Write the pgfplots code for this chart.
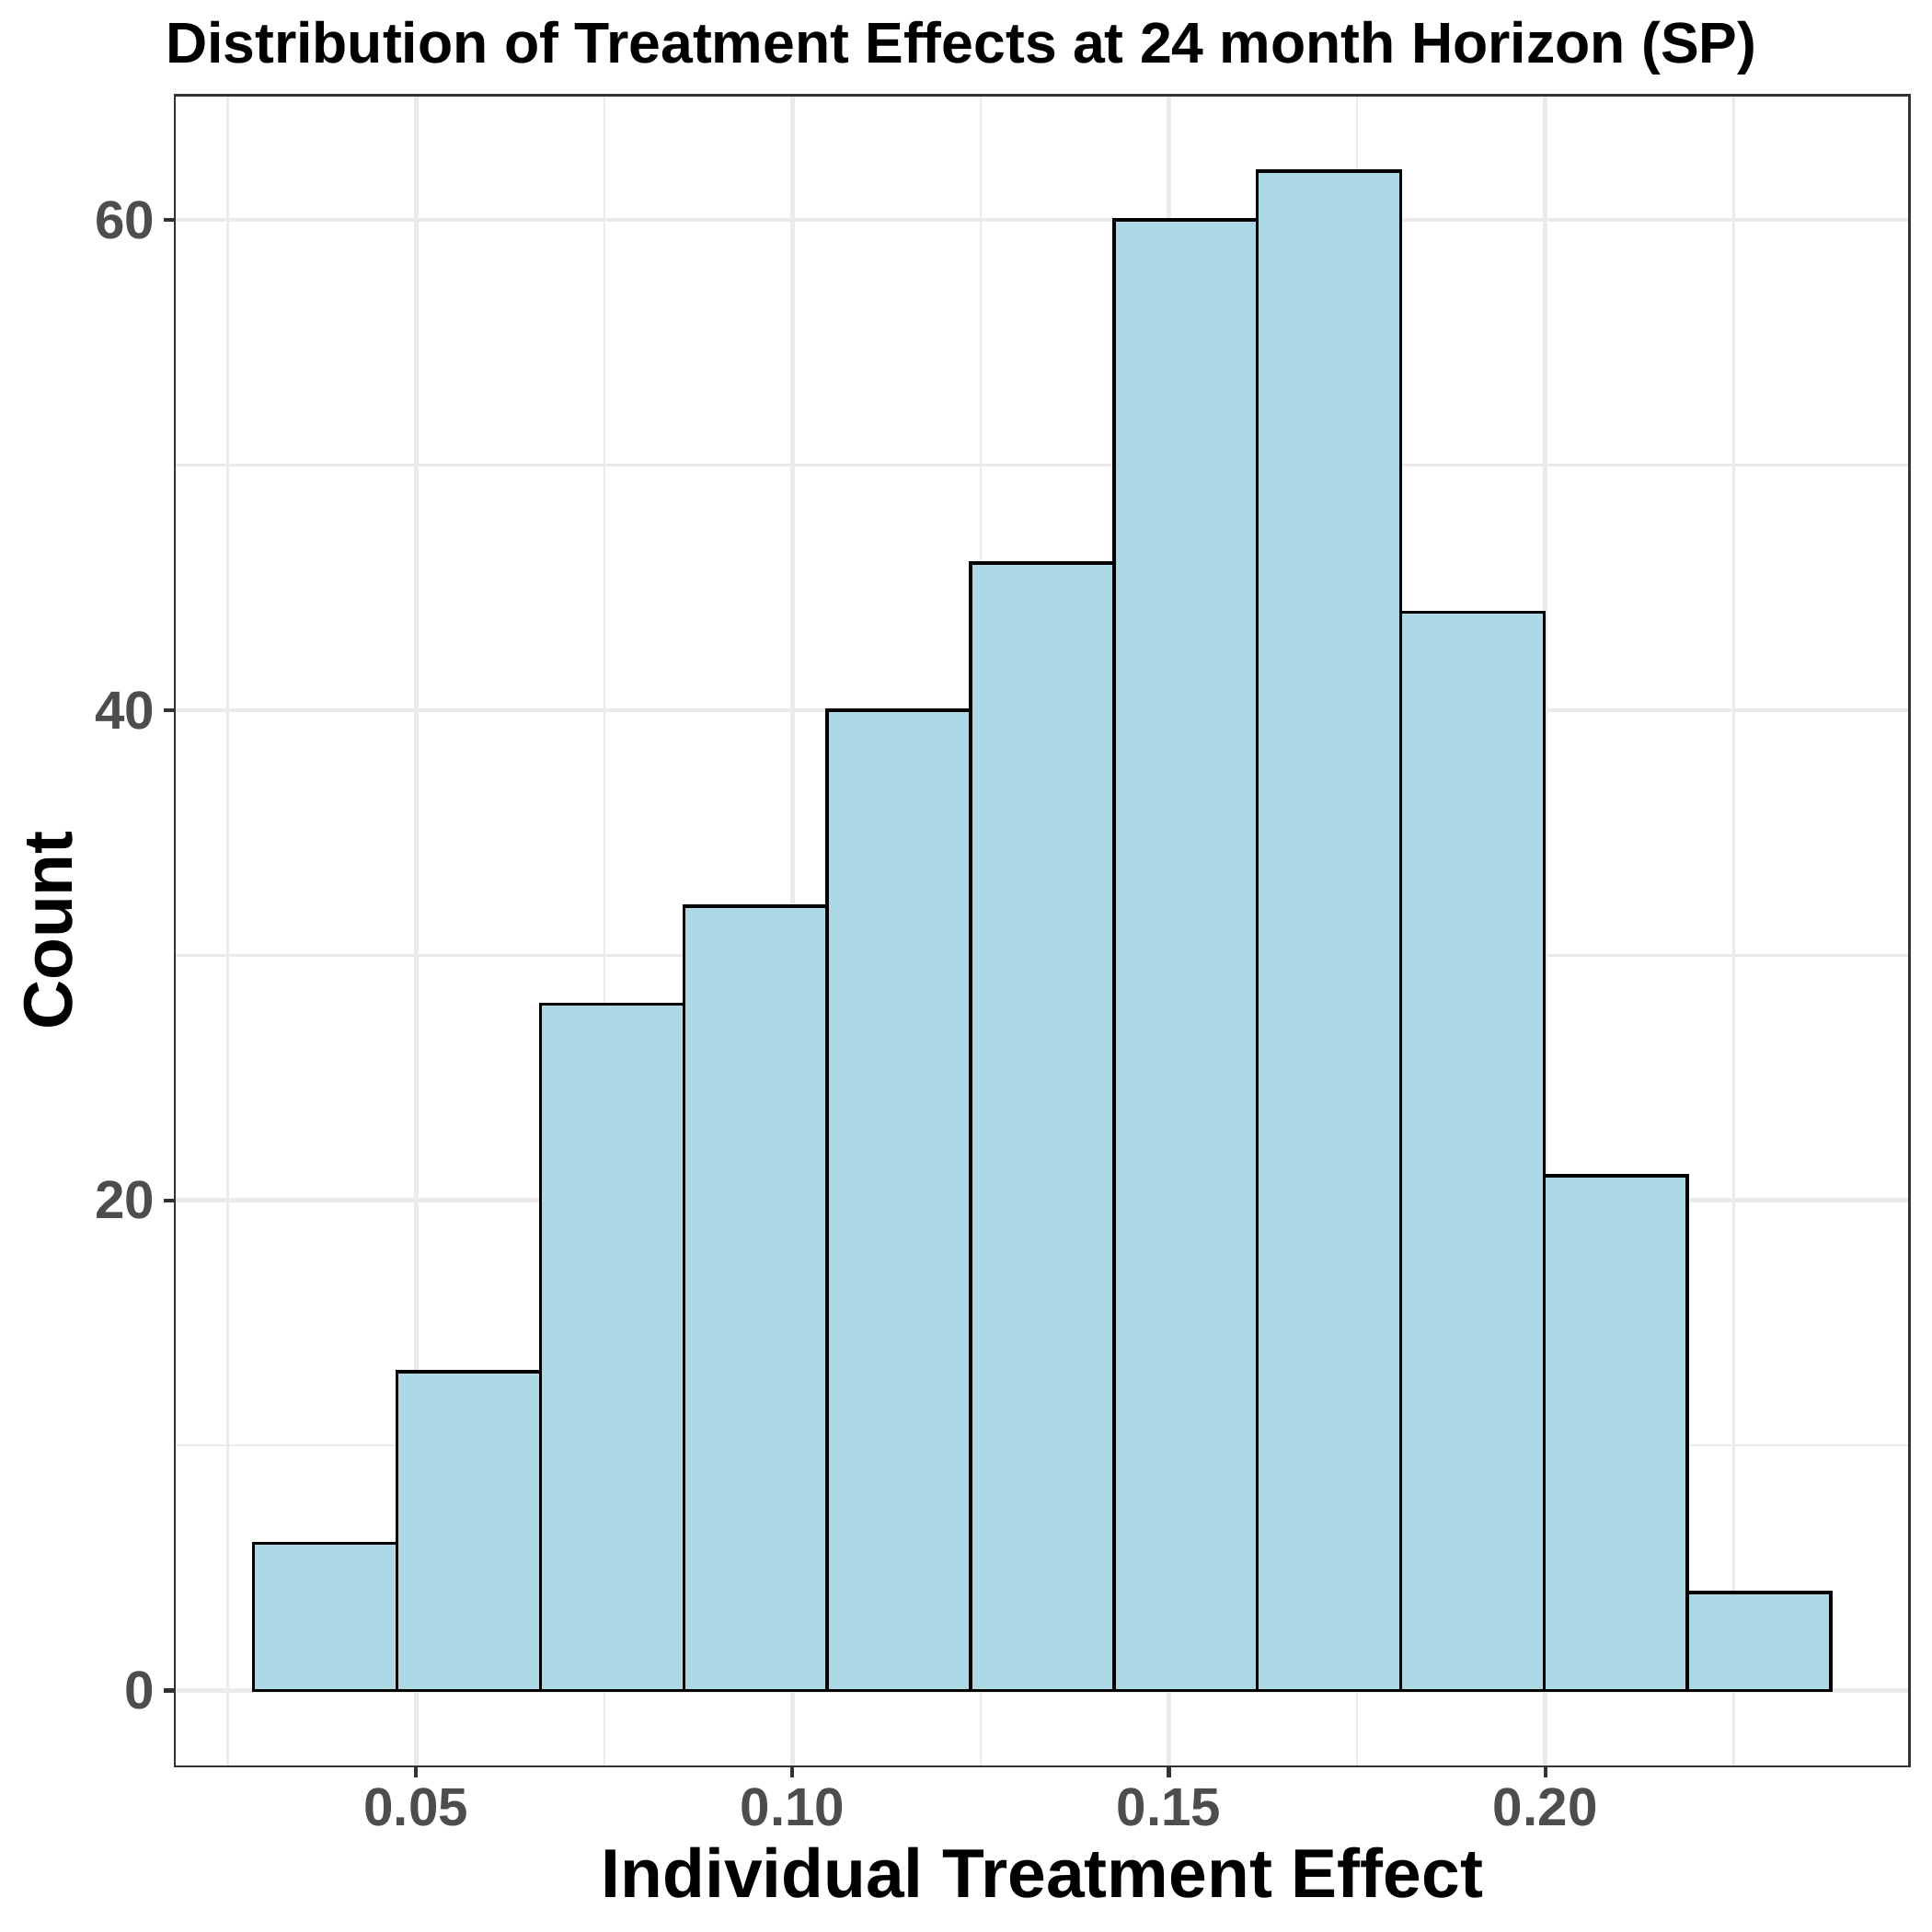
\documentclass[border=0pt]{standalone}
\usepackage{fontspec}
\setmainfont{Liberation Sans}
\usepackage{pgfplots}
\pgfplotsset{compat=1.18}
\definecolor{lightblue}{RGB}{173,216,230}
\definecolor{gridgray}{RGB}{235,235,235}
\definecolor{gray20}{RGB}{51,51,51}
\definecolor{gray30}{RGB}{77,77,77}

\begin{document}
\begin{tikzpicture}
\useasboundingbox (-45.6pt,-43.2pt) rectangle (458.4pt,460.8pt);
\begin{axis}[
    at={(0,0)}, anchor=south west,
    scale only axis,
    width=452.6pt, height=436pt,
    xmin=0.017955, xmax=0.248405,
    ymin=-3.1, ymax=65.1,
    xtick={0.05,0.10,0.15,0.20},
    xticklabels={0.05,0.10,0.15,0.20},
    minor xtick={0.025,0.075,0.125,0.175,0.225},
    ytick={0,20,40,60},
    minor ytick={10,30,50},
    grid=both,
    major grid style={gridgray, line width=1.1pt},
    minor grid style={gridgray, line width=0.6pt},
    axis line style={gray20, line width=0.7pt},
    tick align=outside,
    xtick pos=lower, ytick pos=left,
    major tick length=2.9pt, minor tick length=0pt,
    tick style={gray20, line width=1pt},
    /pgf/number format/assume math mode=true,
    tick label style={font=\fontsize{14}{16}\selectfont\bfseries, text=gray30, inner sep=0pt},
    xticklabel style={anchor=north},
    xticklabel shift=2.6pt,
    yticklabel style={anchor=east},
    yticklabel shift=2.2pt,
    title={Distribution of Treatment Effects at 24 month Horizon (SP)},
    title style={at={(axis description cs:0.4532,1.0193)}, anchor=base, yshift=-6pt,
        font=\fontsize{15}{18}\selectfont\bfseries},
    xlabel={Individual Treatment Effect},
    xlabel style={at={(axis description cs:0.5,-0.0782)}, anchor=base,
        font=\fontsize{18}{21}\selectfont\bfseries},
    ylabel={Count},
    ylabel style={at={(axis description cs:-0.0592,0.5)}, anchor=base,
        font=\fontsize{18}{21}\selectfont\bfseries},
]
% histogram: left bin edges with counts, last point is the right edge
\addplot[ybar interval, fill=lightblue, draw=black, line width=0.85pt] coordinates {
    (0.02843, 6)
    (0.04748, 13)
    (0.06652, 28)
    (0.08557, 32)
    (0.10461, 40)
    (0.12366, 46)
    (0.14270, 60)
    (0.16175, 62)
    (0.18079, 44)
    (0.19984, 21)
    (0.21888, 4)
    (0.23793, 0)
};
\end{axis}
\end{tikzpicture}
\end{document}
